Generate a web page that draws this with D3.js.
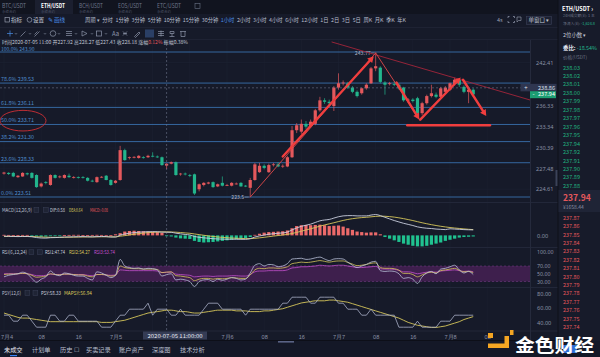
<!DOCTYPE html>
<html><head><meta charset="utf-8">
<script src="https://cdn.jsdelivr.net/npm/d3@7"></script>
<style>
html,body{margin:0;padding:0;background:#161a29;overflow:hidden;}
svg{display:block;font-family:"Noto Sans CJK SC","Noto Sans",sans-serif;}
</style></head><body>
<svg id="c" width="600" height="357"></svg>
<script>
// ---------------- DATA ----------------
const startTime = "2020-07-04T00:00:00Z"; // first 1h candle
const opens  = [226.80,226.90,226.90,226.30,226.40,226.85,226.90,226.60,225.00,225.60,225.20,226.60,226.30,226.20,226.50,226.20,226.30,226.30,226.20,225.80,225.60,226.30,226.50,225.90,225.50,225.90,230.10,229.00,229.10,229.00,229.10,229.10,229.30,229.20,229.10,227.92,228.20,228.40,226.70,226.80,226.60,226.70,224.60,225.20,225.40,225.60,225.00,225.50,225.20,225.10,225.40,225.50,225.10,224.80,225.90,227.00,227.90,227.00,228.00,228.10,227.80,227.80,229.10,232.90,232.70,233.80,233.50,233.80,235.70,237.10,236.90,236.30,238.90,239.50,239.50,238.90,238.30,238.10,238.80,239.50,241.60,241.70,239.60,239.40,239.40,239.30,238.90,237.10,237.20,237.40,235.30,236.70,237.70,237.90,237.60,238.30,238.60,239.40,240.00,239.00,238.30,238.60];
const highs  = [227.05,227.00,227.05,226.60,227.00,226.95,227.00,226.70,225.55,225.75,226.70,226.70,226.55,226.70,226.80,226.45,226.40,226.45,226.30,225.95,226.40,226.45,226.60,226.00,225.90,230.70,230.30,229.20,229.25,229.40,229.25,229.45,229.80,229.35,229.20,228.27,228.50,228.50,226.90,226.95,226.75,226.80,225.40,225.60,225.65,225.70,225.40,226.40,225.35,225.60,225.55,225.60,225.20,226.20,228.30,228.30,228.10,228.20,228.30,228.40,228.10,229.30,233.50,233.90,234.40,234.20,234.40,235.90,237.60,237.40,237.20,239.10,240.90,239.90,239.70,239.10,238.50,238.90,239.50,241.80,243.77,241.90,239.80,239.70,239.80,239.50,239.00,237.40,237.40,237.60,236.90,237.90,239.30,238.20,239.00,239.10,239.60,240.30,240.20,239.20,238.80,238.80];
const lows   = [226.65,226.60,226.30,226.20,226.35,226.55,226.10,224.80,224.85,225.30,225.10,226.10,226.15,226.10,226.20,226.10,226.10,226.10,225.70,225.60,225.50,226.20,225.85,225.10,225.40,225.80,228.60,228.80,228.95,228.90,228.90,229.00,229.10,229.00,227.90,227.43,228.10,226.50,226.50,226.55,226.30,223.80,224.30,225.00,225.30,224.80,224.90,225.00,225.05,225.00,225.25,224.95,224.90,223.50,225.80,226.90,227.40,226.90,227.80,227.70,227.60,227.70,229.00,232.50,232.40,233.10,233.30,233.60,235.50,236.60,236.40,235.60,238.60,239.20,238.70,238.10,237.50,237.90,238.60,239.40,241.20,239.50,237.90,239.20,239.10,238.60,236.90,236.90,236.80,234.60,235.00,236.50,237.50,237.40,237.40,238.10,238.40,239.20,239.00,238.10,236.70,237.80];
const closes = [226.95,226.75,226.40,226.50,226.90,226.70,226.20,224.90,225.40,225.50,226.60,226.20,226.40,226.60,226.30,226.30,226.20,226.20,225.80,225.70,226.30,226.35,225.90,225.20,225.80,230.10,228.70,229.10,229.15,229.30,229.00,229.30,229.20,229.10,228.00,228.18,228.40,226.60,226.80,226.70,226.50,224.00,225.30,225.50,225.55,224.90,225.30,225.10,225.20,225.50,225.40,225.00,225.00,225.90,228.10,227.90,227.60,228.00,228.10,227.80,227.90,229.10,232.90,233.60,233.80,233.40,234.10,235.70,237.10,236.90,236.70,238.90,239.50,239.60,238.90,238.30,237.70,238.80,239.30,241.60,241.90,239.70,239.30,239.50,239.30,238.80,237.10,237.20,237.00,235.30,236.70,237.70,238.10,237.60,238.80,238.90,239.50,240.00,239.30,238.30,238.60,237.94];

const macdHist = [0.10,0.08,0.06,0.05,0.08,0.08,-0.08,-0.20,-0.25,-0.22,-0.12,-0.08,-0.05,0.06,0.08,0.10,0.10,0.06,0.04,0.08,0.10,0.08,0.02,0.03,0.20,0.40,0.70,0.80,0.85,0.80,0.75,0.70,0.65,0.60,0.45,-0.08,-0.20,-0.40,-0.55,-0.60,-0.65,-1.00,-1.20,-1.30,-1.25,-1.20,-1.10,-1.00,-0.90,-0.80,-0.70,-0.60,-0.50,-0.30,0.10,0.30,0.50,0.60,0.65,0.70,0.75,0.90,1.30,1.70,1.85,1.90,1.85,1.90,1.95,1.85,1.70,1.75,1.80,1.60,1.30,1.00,0.70,0.60,0.50,0.55,0.55,0.20,-0.30,-0.60,-0.90,-1.20,-1.50,-1.70,-1.90,-2.00,-2.00,-1.90,-1.70,-1.50,-1.30,-1.00,-0.80,-0.60,-0.40,-0.30,-0.25,-0.20];
const macdDif  = [-0.15,-0.17,-0.20,-0.22,-0.20,-0.20,-0.25,-0.40,-0.48,-0.50,-0.42,-0.40,-0.36,-0.30,-0.28,-0.26,-0.24,-0.22,-0.25,-0.27,-0.22,-0.20,-0.22,-0.30,-0.30,0.05,0.25,0.40,0.50,0.58,0.63,0.67,0.68,0.67,0.60,0.58,0.56,0.40,0.28,0.17,0.08,-0.20,-0.35,-0.45,-0.52,-0.60,-0.65,-0.68,-0.70,-0.70,-0.70,-0.72,-0.72,-0.60,-0.30,-0.10,0.05,0.20,0.30,0.38,0.45,0.60,1.00,1.35,1.65,1.85,2.05,2.35,2.65,2.80,2.90,3.15,3.40,3.55,3.60,3.60,3.55,3.55,3.55,3.70,3.80,3.60,3.30,3.00,2.70,2.45,2.20,2.00,1.80,1.55,1.40,1.30,1.25,1.15,1.10,1.05,1.20,1.15,1.10,1.05,1.02,1.00];
const macdDea  = [-0.20,-0.20,-0.20,-0.20,-0.20,-0.20,-0.21,-0.25,-0.29,-0.33,-0.35,-0.36,-0.36,-0.35,-0.34,-0.32,-0.31,-0.29,-0.28,-0.28,-0.27,-0.26,-0.25,-0.26,-0.27,-0.15,-0.05,0.08,0.20,0.32,0.42,0.50,0.56,0.60,0.63,0.64,0.62,0.58,0.52,0.45,0.38,0.26,0.14,0.02,-0.10,-0.20,-0.29,-0.37,-0.43,-0.48,-0.52,-0.56,-0.59,-0.60,-0.54,-0.45,-0.35,-0.24,-0.13,-0.03,0.07,0.18,0.34,0.54,0.76,0.98,1.20,1.43,1.68,1.90,2.10,2.30,2.52,2.72,2.90,3.04,3.15,3.24,3.30,3.38,3.46,3.50,3.48,3.42,3.33,3.20,3.05,2.88,2.70,2.50,2.30,2.12,1.95,1.80,1.66,1.54,1.43,1.34,1.26,1.18,1.11,1.05];

const rsi1 = [42,46,48,50,54,50,38,28,36,42,57,48,45,52,50,46,44,44,38,34,55,52,46,40,46,87,70,66,64,65,62,64,63,60,44,47.74,50,34,36,34,30,17,30,34,35,30,36,33,36,40,38,34,36,52,72,76,70,74,73,68,70,76,88,89,90,87,88,91,93,88,84,88,89,88,80,72,66,70,74,80,82,58,56,57,56,50,38,40,36,25,42,52,56,50,62,64,68,72,60,52,56,48];
const rsi2 = [48,49,49,50,51,50,46,41,42,44,50,48,47,49,49,48,47,47,44,42,48,48,47,44,46,70,66,64,63,63,62,62,62,61,53,54.27,55,45,44,42,40,32,36,38,38,36,38,37,38,40,39,38,38,47,60,64,63,65,65,64,65,68,76,78,80,79,80,82,84,82,80,82,83,83,79,75,71,72,74,77,78,66,64,64,63,59,51,51,48,42,47,52,54,52,58,60,62,64,59,55,56,53];
const rsi3 = [50,50,50,50,51,50,48,45,45,46,49,48,48,49,49,48,48,48,46,45,48,48,47,46,47,60,59,58,58,58,58,58,58,57,53,53.74,54,49,48,47,46,42,43,44,44,43,44,44,44,45,45,44,44,48,55,57,57,58,58,58,58,60,65,66,68,68,69,70,72,71,70,71,72,72,70,68,66,66,67,68,69,63,62,62,61,59,55,55,53,50,52,54,55,54,57,58,59,60,58,56,57,55];

const psy   = [50,50,41.67,41.67,50,50,41.67,33.33,33.33,33.33,50,50,41.67,41.67,50,50,41.67,41.67,41.67,41.67,41.67,33.33,33.33,33.33,41.67,50,50,58.33,58.33,58.33,58.33,66.67,50,58.33,58.33,58.33,50,50,58.33,50,50,50,50,58.33,66.67,66.67,66.67,58.33,58.33,58.33,58.33,58.33,50,58.33,58.33,58.33,58.33,58.33,58.33,58.33,66.67,66.67,75,75,75,75,66.67,66.67,75,75,75,75,66.67,66.67,58.33,58.33,58.33,50,50,58.33,50,50,50,50,50,33.33,33.33,33.33,33.33,41.67,33.33,33.33,33.33,33.33,41.67,41.67,41.67,50,50,50,50,50];
const mapsy = [53,51,49,47,46,46,45,44,43,42,41,41,41,41,41,41,41,41,41,41,41,40,40,40,41,42,43,45,47,49,51,53,54,55,56,56.94,57,56,55,55,54,53,53,54,55,56,57,57,57,57,56,56,56,55,55,55,56,56,57,58,59,61,63,65,67,68,69,70,70,70,71,71,70,69,68,66,64,62,60,58,56,54,52,50,48,46,43,40,38,36,35,34,33,33,34,35,37,39,41,44,46,48];

const fibLabels = ["100.0%","78.6%","61.8%","50.0%","38.2%","23.6%","0.0%"];
const fibPrices = [243.90,239.53,236.11,233.71,231.30,228.33,223.51];
const priceTicks = [242.41,236.33,233.34,230.39,227.48,224.61];
const macdTicks = [0.00];
const rsiTicks = [100,70,50,30];
const psyTicks = [80,60,40];

const symbolTabs = ["BTC/USDT","ETH/USDT","BCH/USDT","EOS/USDT","ETC/USDT"];
const periodItems = ["周期 ▾","分时","1分钟","3分钟","5分钟","10分钟","15分钟","30分钟","1小时","2小时","3小时","4小时","6小时","12小时","1日","2日","3日","5日","周K","月K","季K","年K"];
const bottomTabs = ["未成交","计划单","历史 ☐","买卖记录","账户资产","深度图","技术分析"];
const askPrices = [238.03,238.02,238.01,238.00,237.99,237.98,237.97,237.96,237.95,237.94,237.92,237.91,237.90,237.89,237.88];
const bidPrices = [237.87,237.86,237.85,237.84,237.83,237.82,237.81,237.80,237.79,237.78,237.77,237.76,237.75,237.74];
const lastPrice = 237.94, crossPrice = 238.86, swingHigh = 243.77, swingLow = 223.5;
const crossIndex = 35;

// ---------------- DRAW ----------------
const C = {bg:"#161a29", up:"#e4585c", down:"#22b58c", grid:"#1d2233", sep:"#262b3e", axis:"#8a91a6",
           fib:"#35679f", fibTxt:"#4f8ccb", white:"#c9cede", yellow:"#d6c65a", magenta:"#c24fcc"};
const svg = d3.select("#c");
const t0 = new Date(startTime).getTime();
const times = closes.map((_, i) => new Date(t0 + i * 3600e3));
const x = d3.scaleUtc().domain([new Date("2020-07-04T00:00:00Z"), new Date("2020-07-08T00:00:00Z")]).range([4, 450]);
const yP = d3.scaleLinear().domain([223.51, 243.90]).range([197, 52]);
const yM = d3.scaleLinear().domain([-2.3, 5.9]).range([248, 203]);
const yR = d3.scaleLinear().domain([30, 70]).range([281.5, 266]);
const yS = d3.scaleLinear().domain([40, 80]).range([322.4, 293.6]);
const cw = 3.2;

svg.append("rect").attr("width", 600).attr("height", 357).attr("fill", C.bg);
const defs = svg.append("defs");
defs.append("clipPath").attr("id", "plot").append("rect").attr("x", 0).attr("y", 40).attr("width", 530).attr("height", 162);
defs.append("clipPath").attr("id", "sub").append("rect").attr("x", 0).attr("y", 203).attr("width", 530).attr("height", 128);

function T(g, xx, yy, s, o = {}) {
  const t = g.append("text").attr("x", xx).attr("y", yy).text(s)
    .attr("font-size", o.fs || 6).attr("fill", o.c || C.axis);
  if (o.a) t.attr("text-anchor", o.a);
  if (o.w) t.attr("font-weight", o.w);
  if (o.len) t.attr("textLength", o.len).attr("lengthAdjust", "spacingAndGlyphs");
  return t;
}

// top bars
svg.append("rect").attr("x", 0).attr("y", 0).attr("width", 558).attr("height", 14).attr("fill", "#11141f");
svg.append("rect").attr("x", 35).attr("y", 0).attr("width", 38).attr("height", 14).attr("fill", "#1b1f2f");
const tabX = [2, 41, 79, 118, 157];
symbolTabs.forEach((s, i) => {
  T(svg, tabX[i], 7.5, s, {fs: 5.6, c: i === 1 ? "#ffffff" : "#6c7388", w: i === 1 ? "bold" : null, len: 24});
  T(svg, tabX[i], 12.5, "永续合约", {fs: 3.6, c: "#4f566b", len: 14});
});
svg.append("rect").attr("x", 195).attr("y", 3.5).attr("width", 5).attr("height", 5).attr("fill", "none").attr("stroke", "#6c7388").attr("stroke-width", 0.6);
svg.append("line").attr("x1", 0).attr("x2", 558).attr("y1", 27.5).attr("y2", 27.5).attr("stroke", "#1e2233");
svg.append("line").attr("x1", 0).attr("x2", 558).attr("y1", 39.5).attr("y2", 39.5).attr("stroke", "#1e2233");

// row 2
const r2 = svg.append("g");
r2.append("rect").attr("x", 5).attr("y", 17.5).attr("width", 4.5).attr("height", 4.5).attr("fill", "none").attr("stroke", "#aab1c4").attr("stroke-width", 0.6);
T(r2, 11, 22.2, "指标", {fs: 5.6, c: "#c3c8d6"});
r2.append("circle").attr("cx", 29.5).attr("cy", 19.8).attr("r", 2.4).attr("fill", "none").attr("stroke", "#aab1c4").attr("stroke-width", 0.6);
T(r2, 33, 22.2, "设置", {fs: 5.6, c: "#c3c8d6"});
T(r2, 48, 22.2, "✎", {fs: 5.6, c: "#4a8fe7"});
T(r2, 54, 22.2, "画线", {fs: 5.6, c: "#4a8fe7"});
// period items laid out sequentially between x=85 and x=406
const pTexts = periodItems.map(s => T(r2, 0, 22.2, s, {fs: 5.3, c: s === "1小时" ? "#4a8fe7" : "#b9bfce"}));
const pW = pTexts.map(t => t.node().getComputedTextLength());
const pGap = (406 - 85 - d3.sum(pW)) / (pW.length - 1);
let px = 85;
pTexts.forEach((t, i) => { t.attr("x", px); px += pW[i] + pGap; });
T(r2, 497, 22.2, "4s", {fs: 5.5, c: "#9aa1b4"});
r2.append("path").attr("d", "M508 18v-1.5h1.5M513 16.5h1.5V18M514.5 21v1.5H513M509.5 22.5H508V21").attr("fill", "none").attr("stroke", "#9aa1b4").attr("stroke-width", 0.7);
r2.append("path").attr("d", "M517 17h4v3.5h-2.5l-1.5 1.5z").attr("fill", "none").attr("stroke", "#9aa1b4").attr("stroke-width", 0.6);
r2.append("rect").attr("x", 526.5).attr("y", 16.5).attr("width", 25).attr("height", 8).attr("fill", "#1c2132").attr("stroke", "#3a4058").attr("stroke-width", 0.6);
T(r2, 528.5, 22.4, "单窗口 ▾", {fs: 5.2, c: "#c3c8d6", len: 21});

// row 3 drawing tool icons
const r3 = svg.append("g").attr("fill", "none").attr("stroke", "#8e96ab").attr("stroke-width", 0.7);
r3.append("path").attr("d", "M10 30.5v6M7 33.5h6").attr("stroke", "#4a8fe7");
r3.append("path").attr("d", "M20.5 36.5l5-5");
r3.append("path").attr("d", "M34.5 36.5l5-5M34.5 34.5l3-3");
r3.append("circle").attr("cx", 53).attr("cy", 33.5).attr("r", 2.8);
r3.append("path").attr("d", "M66 31.5h6M66 33.5h6M66 35.5h6");
r3.append("path").attr("d", "M82 31v5l5-2.5z");
r3.append("rect").attr("x", 96.5).attr("y", 31).attr("width", 5).attr("height", 5);
[16, 30, 45, 59, 76, 92, 106].forEach(xx => r3.append("path").attr("d", `M${xx-1.2} 33l1.2 1.3l1.2-1.3`).attr("stroke-width", 0.5));
T(svg, 112, 35.8, "Aa", {fs: 6, c: "#8e96ab"});
r3.append("path").attr("d", "M123 31.5l4 4M127 31.5l-4 4M123 33.5h4");
r3.append("path").attr("d", "M134.5 36.5l4.5-4.5l1 1l-4.5 4.5z");
svg.append("rect").attr("x", 145).attr("y", 29.5).attr("width", 9).attr("height", 8).attr("fill", "#2a3f66");
r3.append("path").attr("d", "M146.5 36l3-4l3 4z").attr("stroke", "#4a8fe7");
r3.append("path").attr("d", "M158 31.5h6M158 33.5h6M158 35.5h6M161 30.5v6");
r3.append("path").attr("d", "M169.5 36.5h5M172 36.5v-3M170 33.5h4v-2h-4z");
r3.append("path").attr("d", "M180 31.5h6M181 31.5v5h4v-5");

// info line
const info = T(svg, 2, 44.2, "", {fs: 5, c: "#c3c8d6", len: 186});
info.append("tspan").text("时间2020-07-05 11:00 开227.92 高228.27 低227.43 收228.18 涨幅");
info.append("tspan").attr("fill", C.up).text("0.12%");
info.append("tspan").text(" 振幅0.38%");

// grid
const grid = svg.append("g").attr("stroke", C.grid).attr("stroke-width", 0.6);
const gridTimes = d3.utcHour.every(8).range(new Date("2020-07-04T00:00:00Z"), new Date("2020-07-08T09:00:00Z"));
gridTimes.forEach(d => grid.append("line").attr("x1", x(d)).attr("x2", x(d)).attr("y1", 40).attr("y2", 331));
priceTicks.forEach(p => grid.append("line").attr("x1", 0).attr("x2", 530).attr("y1", yP(p)).attr("y2", yP(p)));

// panel separators
[202.5, 247.5, 287.5, 331].forEach(yy => svg.append("line").attr("x1", 0).attr("x2", 558).attr("y1", yy).attr("y2", yy).attr("stroke", C.sep).attr("stroke-width", 0.8));
svg.append("line").attr("x1", 530.5).attr("x2", 530.5).attr("y1", 40).attr("y2", 341).attr("stroke", "#252a3c");

// fib lines
const fib = svg.append("g");
fibPrices.forEach((p, i) => {
  fib.append("line").attr("x1", 0).attr("x2", 530).attr("y1", yP(p)).attr("y2", yP(p)).attr("stroke", C.fib).attr("stroke-width", 1);
  T(fib, 1, yP(p) - (i === 0 ? 0.9 : 2.2), `${fibLabels[i]} ${p.toFixed(2)}`, {fs: i === 0 ? 5 : 5.4, c: C.fibTxt});
});

// candles
const cg = svg.append("g").attr("clip-path", "url(#plot)");
closes.forEach((c, i) => {
  const o = opens[i], col = c >= o ? C.up : C.down, cx = x(times[i]);
  cg.append("line").attr("x1", cx).attr("x2", cx).attr("y1", yP(highs[i])).attr("y2", yP(lows[i])).attr("stroke", col).attr("stroke-width", 0.7);
  const y1 = yP(Math.max(o, c)), y2 = yP(Math.min(o, c));
  cg.append("rect").attr("x", cx - cw / 2).attr("y", y1).attr("width", cw).attr("height", Math.max(0.8, y2 - y1)).attr("fill", col);
});

// swing labels
const hiI = highs.indexOf(swingHigh), loI = lows.indexOf(swingLow);
T(svg, x(times[hiI]) - 5, yP(swingHigh) + 2, swingHigh.toFixed(2), {fs: 5.2, c: "#aeb4c6", a: "end"});
svg.append("line").attr("x1", x(times[hiI]) - 4.5).attr("x2", x(times[hiI]) - 1).attr("y1", yP(swingHigh)).attr("y2", yP(swingHigh)).attr("stroke", "#aeb4c6").attr("stroke-width", 0.5);
T(svg, x(times[loI]) - 6, yP(swingLow) + 2, String(swingLow), {fs: 5.2, c: "#aeb4c6", a: "end"});
svg.append("line").attr("x1", x(times[loI]) - 5.5).attr("x2", x(times[loI]) - 1.5).attr("y1", yP(swingLow)).attr("y2", yP(swingLow)).attr("stroke", "#aeb4c6").attr("stroke-width", 0.5);

// annotations (drawn in data coordinates: [candle index, price])
const an = svg.append("g").attr("clip-path", "url(#plot)");
const P = (i, p) => [x(new Date(t0 + i * 3600e3)), yP(p)];
function seg(a, b, w, col) {
  const A = P(...a), B = P(...b);
  an.append("line").attr("x1", A[0]).attr("y1", A[1]).attr("x2", B[0]).attr("y2", B[1]).attr("stroke", col).attr("stroke-width", w).attr("stroke-linecap", "round");
}
function arrow(a, b, w) {
  const A = P(...a), B = P(...b);
  const ang = Math.atan2(B[1] - A[1], B[0] - A[0]), L = 7, s = 0.5;
  an.append("line").attr("x1", A[0]).attr("y1", A[1]).attr("x2", B[0] - Math.cos(ang) * 4).attr("y2", B[1] - Math.sin(ang) * 4).attr("stroke", "#f03e3e").attr("stroke-width", w).attr("stroke-linecap", "round");
  const p1 = [B[0] - L * Math.cos(ang - s), B[1] - L * Math.sin(ang - s)], p2 = [B[0] - L * Math.cos(ang + s), B[1] - L * Math.sin(ang + s)];
  an.append("path").attr("d", `M${B[0]},${B[1]}L${p1[0]},${p1[1]}L${p2[0]},${p2[1]}Z`).attr("fill", "#f03e3e");
}
seg([70.6, 245.3], [113.5, 237.1], 0.9, "#a3253a");       // resistance
seg([53, 223.5], [80, 243.77], 0.9, "#e0484a");           // fib diagonal
seg([80, 243.77], [89.5, 234.3], 0.9, "#e0484a");
arrow([60, 229.2], [79.6, 243.3], 2.4);
arrow([84.5, 239.6], [89.4, 234.4], 2.4);
arrow([89.6, 234.4], [98.3, 240.3], 2.4);
arrow([98.8, 240.0], [103.8, 234.9], 2.4);
seg([86.8, 233.6], [104.6, 233.6], 2.4, "#f03e3e");

// red ellipse around 50% label
const fy = yP(fibPrices[3]);
svg.append("ellipse").attr("cx", 23).attr("cy", fy - 3.8).attr("rx", 23).attr("ry", 10.3).attr("fill", "none").attr("stroke", "#cf3036").attr("stroke-width", 0.9);

// crosshair
const cxX = x(times[crossIndex]);
svg.append("line").attr("x1", cxX).attr("x2", cxX).attr("y1", 40).attr("y2", 331).attr("stroke", "#6d7389").attr("stroke-width", 0.6).attr("stroke-dasharray", "2,2");
svg.append("line").attr("x1", 0).attr("x2", 521).attr("y1", yP(crossPrice)).attr("y2", yP(crossPrice)).attr("stroke", "#6d7389").attr("stroke-width", 0.6).attr("stroke-dasharray", "2,2");

// price axis
const pa = svg.append("g").attr("transform", "translate(536,0)")
  .call(d3.axisRight(yP).tickValues(priceTicks).tickSize(0).tickFormat(d3.format(".2f")));
pa.select(".domain").remove();
pa.selectAll("text").attr("x", 0).attr("fill", C.axis).attr("font-size", 5.6).attr("font-family", "Noto Sans");
svg.append("rect").attr("x", 520.5).attr("y", yP(crossPrice) - 4).attr("width", 36).attr("height", 7.5).attr("fill", "#2f3650");
T(svg, 526, yP(crossPrice) + 2, "+", {fs: 6, c: "#dfe3ee", a: "middle"});
T(svg, 538, yP(crossPrice) + 2, crossPrice.toFixed(2), {fs: 5.6, c: "#dfe3ee"});
svg.append("rect").attr("x", 530).attr("y", yP(lastPrice) - 3.2).attr("width", 26).attr("height", 7).attr("fill", "#1d9e73");
T(svg, 532.5, yP(lastPrice) + 2, "-", {fs: 6, c: "#ffffff"});
T(svg, 538, yP(lastPrice) + 2, lastPrice.toFixed(2), {fs: 5.6, c: "#ffffff"});
svg.append("rect").attr("x", 555.5).attr("y", 170).attr("width", 2.5).attr("height", 16).attr("fill", "#3b4259");

// MACD
const mg = svg.append("g").attr("clip-path", "url(#sub)");
macdHist.forEach((v, i) => {
  const cx = x(times[i]);
  mg.append("rect").attr("x", cx - cw / 2).attr("y", Math.min(yM(v), yM(0))).attr("width", cw)
    .attr("height", Math.max(0.8, Math.abs(yM(v) - yM(0)))).attr("fill", v >= 0 ? "#ec6a6a" : "#20c290");
});
const lineGen = (sc) => d3.line().x((d, i) => x(times[i])).y(d => sc(d)).curve(d3.curveMonotoneX);
mg.append("path").datum(macdDea).attr("d", lineGen(yM)).attr("fill", "none").attr("stroke", C.yellow).attr("stroke-width", 0.9);
mg.append("path").datum(macdDif).attr("d", lineGen(yM)).attr("fill", "none").attr("stroke", C.white).attr("stroke-width", 0.9);
function titleBoxes(g, xs, yy) { xs.forEach(xx => g.append("rect").attr("x", xx).attr("y", yy - 4.5).attr("width", 4.8).attr("height", 4.8).attr("fill", "#1f2435").attr("stroke", "#3a4058").attr("stroke-width", 0.5)); }
T(svg, 2, 212, "MACD(12,26,9)", {fs: 5.4, c: "#b9bfce", len: 30});
titleBoxes(svg, [34, 43.5], 212);
T(svg, 50, 212, "DIF:0.58", {fs: 5.2, c: C.white, len: 15});
T(svg, 69, 212, "DEA:0.64", {fs: 5.2, c: C.yellow, len: 13.5});
T(svg, 90, 212, "MACD:-0.08", {fs: 5.2, c: C.up, len: 18});
const ma = svg.append("g").attr("transform", "translate(537,0)").call(d3.axisRight(yM).tickValues(macdTicks).tickSize(0).tickFormat(d3.format(".2f")));
ma.select(".domain").remove();
ma.selectAll("text").attr("x", 0).attr("fill", C.axis).attr("font-size", 5.6).attr("font-family", "Noto Sans");

// RSI
const rg = svg.append("g").attr("clip-path", "url(#sub)");
rg.append("rect").attr("x", 0).attr("y", yR(70)).attr("width", 530).attr("height", yR(30) - yR(70)).attr("fill", "#3e1f4d");
[70, 30].forEach(v => rg.append("line").attr("x1", 0).attr("x2", 530).attr("y1", yR(v)).attr("y2", yR(v)).attr("stroke", "#7d3f8f").attr("stroke-width", 0.5).attr("stroke-dasharray", "2,2"));
[[rsi3, C.magenta], [rsi2, C.yellow], [rsi1, "#b9c0d8"]].forEach(([d, c]) =>
  rg.append("path").datum(d).attr("d", lineGen(yR)).attr("fill", "none").attr("stroke", c).attr("stroke-width", 0.8));
T(svg, 2, 254.3, "RSI(6,12,24)", {fs: 5.4, c: "#b9bfce", len: 25});
titleBoxes(svg, [29, 37.5], 254.3);
T(svg, 45, 254.3, "RSI1:47.74", {fs: 5.4, c: C.white, len: 20});
T(svg, 69, 254.3, "RSI2:54.27", {fs: 5.4, c: C.yellow, len: 21});
T(svg, 94, 254.3, "RSI3:53.74", {fs: 5.4, c: C.magenta, len: 21});
const ra = svg.append("g").attr("transform", "translate(537,0)").call(d3.axisRight(yR).tickValues(rsiTicks).tickSize(0).tickFormat(d3.format(".2f")));
ra.select(".domain").remove();
ra.selectAll("text").attr("x", 0).attr("fill", C.axis).attr("font-size", 5.3).attr("font-family", "Noto Sans");
ra.selectAll(".tick").filter(d => d === 100).attr("transform", "translate(0,252.5)");

// PSY
const sg = svg.append("g").attr("clip-path", "url(#sub)");
sg.append("path").datum(mapsy).attr("d", lineGen(yS)).attr("fill", "none").attr("stroke", C.yellow).attr("stroke-width", 0.9);
sg.append("path").datum(psy).attr("d", d3.line().x((d, i) => x(times[i])).y(d => yS(d))).attr("fill", "none").attr("stroke", "#a9b0c8").attr("stroke-width", 0.8);
T(svg, 2, 295, "PSY(12,6)", {fs: 5.4, c: "#b9bfce", len: 19});
titleBoxes(svg, [25, 33], 295);
T(svg, 41, 295, "PSY:58.33", {fs: 5.4, c: C.white, len: 20});
T(svg, 64, 295, "MAPSY:56.94", {fs: 5.4, c: C.yellow, len: 28});
const sa = svg.append("g").attr("transform", "translate(537,0)").call(d3.axisRight(yS).tickValues(psyTicks).tickSize(0).tickFormat(d3.format(".2f")));
sa.select(".domain").remove();
sa.selectAll("text").attr("x", 0).attr("fill", C.axis).attr("font-size", 5.6).attr("font-family", "Noto Sans");

// time axis
const boxL = 143, boxR = 207;
const ta = svg.append("g").attr("transform", "translate(0,333)")
  .call(d3.axisBottom(x).tickValues(gridTimes).tickSize(0)
    .tickFormat(d => d.getUTCHours() === 0 ? `7月${d.getUTCDate()}` : d3.utcFormat("%H")(d)));
ta.select(".domain").remove();
ta.selectAll("text").attr("fill", C.axis).attr("font-size", 5.6).attr("dy", "0.5em");
ta.selectAll(".tick").filter(d => x(d) > boxL - 4 && x(d) < boxR + 4).remove();   // hidden under crosshair label
ta.selectAll(".tick").filter((d, i) => i === 0).select("text").attr("text-anchor", "start").attr("x", -3.5);
svg.append("rect").attr("x", boxL).attr("y", 331.5).attr("width", boxR - boxL).attr("height", 8).attr("fill", "#353c55");
T(svg, 175, 337.7, "2020-07-05 11:00:00", {fs: 5.2, c: "#e6e9f2", a: "middle", len: 55});

// bottom bar
svg.append("rect").attr("x", 0).attr("y", 340.5).attr("width", 600).attr("height", 17).attr("fill", "#141827");
svg.append("line").attr("x1", 0).attr("x2", 600).attr("y1", 340.5).attr("y2", 340.5).attr("stroke", "#0d0f18");
svg.append("rect").attr("x", 278).attr("y", 341).attr("width", 16).attr("height", 1.6).attr("fill", "#5a6385");
const btX = [4, 32, 60, 86, 119, 152, 180];
bottomTabs.forEach((s, i) => T(svg, btX[i], 351.5, s, {fs: 6.2, c: i === 0 ? "#e6e9f2" : "#b9bfce"}));
svg.append("rect").attr("x", 10).attr("y", 355).attr("width", 7).attr("height", 1.2).attr("fill", "#3b82f6");

// right panel (order book)
const rp = svg.append("g");
rp.append("rect").attr("x", 558).attr("y", 0).attr("width", 42).attr("height", 341).attr("fill", "#171b2a");
rp.append("line").attr("x1", 558).attr("x2", 558).attr("y1", 0).attr("y2", 341).attr("stroke", "#0e1019");
T(rp, 562, 10.5, "ETH/USDT ›", {fs: 6.6, c: "#ffffff", w: "bold", len: 31});
T(rp, 563, 17, "24H成交额(¥): 1 主", {fs: 3.8, c: "#6f7689"});
const nf = T(rp, 563, 24.8, "净流入(¥): ", {fs: 3.8, c: "#6f7689"});
nf.append("tspan").attr("fill", C.down).text("-1,624.8");
T(rp, 563, 36.5, "2位小数 ▾", {fs: 5.4, c: "#c3c8d6"});
const wb = T(rp, 563, 49.5, "委比: ", {fs: 5.4, c: "#e6e9f2", w: "bold"});
wb.append("tspan").attr("fill", C.down).attr("font-weight", "normal").text("-18.54%");
T(rp, 563, 58.8, "价格(USDT)", {fs: 4.6, c: "#6f7689"});
askPrices.forEach((p, i) => T(rp, 563, 69.5 + i * 8.46, p.toFixed(2), {fs: 5.6, c: "#21b07f"}));
rp.append("rect").attr("x", 558.5).attr("y", 190).attr("width", 41.5).attr("height", 22).attr("fill", "#1f2436");
T(rp, 563, 200.5, lastPrice.toFixed(2), {fs: 8.5, c: C.up, w: "bold"});
T(rp, 563, 208.8, "¥1658.44", {fs: 5, c: "#8a91a6"});
bidPrices.forEach((p, i) => T(rp, 563, 219.8 + i * 8.4, p.toFixed(2), {fs: 5.4, c: C.up}));
svg.append("rect").attr("x", 563).attr("y", 345).attr("width", 14).attr("height", 8).attr("fill", "#2f6fd6");

// watermark
const wm = svg.append("g").attr("fill", "#f5a623");
wm.append("rect").attr("x", 488).attr("y", 333).attr("width", 5).attr("height", 5);
wm.append("rect").attr("x", 504.5).attr("y", 336).attr("width", 4.5).attr("height", 12);
wm.append("rect").attr("x", 488).attr("y", 343.5).attr("width", 21).attr("height", 4.5);
wm.append("rect").attr("x", 510).attr("y", 330).attr("width", 3.5).attr("height", 5);
T(svg, 515, 352.3, "金色财经", {fs: 18, c: "#ffffff", w: "bold", len: 79});
</script>
</body></html>
